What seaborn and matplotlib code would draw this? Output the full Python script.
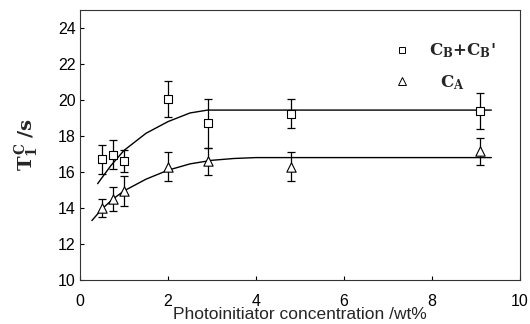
import numpy as np
import pandas as pd
import matplotlib
matplotlib.use("Agg")
import matplotlib.pyplot as plt
from matplotlib.lines import Line2D
import seaborn as sns

# measured points (photoinitiator wt% -> T1C in s)
conc = [0.5, 0.75, 1.0, 2.0, 2.9, 4.8, 9.1]
t1_cb = [16.7, 16.95, 16.6, 20.05, 18.7, 19.25, 19.4]
err_cb = [0.8, 0.8, 0.6, 1.0, 1.35, 0.8, 1.0]
t1_ca = [14.0, 14.5, 14.95, 16.3, 16.6, 16.3, 17.15]
err_ca = [0.5, 0.65, 0.85, 0.8, 0.75, 0.8, 0.75]

# fitted curves
fit_cb_x = [0.4, 0.7, 1.0, 1.5, 2.0, 2.5, 2.9, 9.35]
fit_cb_y = [15.35, 16.35, 17.2, 18.15, 18.8, 19.28, 19.44, 19.44]
fit_ca_x = [0.27, 0.5, 0.75, 1.0, 1.5, 2.0, 2.5, 3.0, 3.5, 4.0, 9.35]
fit_ca_y = [13.3, 13.95, 14.5, 14.95, 15.6, 16.1, 16.45, 16.65, 16.75, 16.8, 16.8]

xticks = [0, 2, 4, 6, 8, 10]
yticks = [10, 12, 14, 16, 18, 20, 22, 24]

sns.set_style("ticks")
plt.rcParams["font.family"] = ["Liberation Sans", "DejaVu Sans"]
plt.rcParams["mathtext.fontset"] = "dejavuserif"

df_pts = pd.DataFrame({"conc": conc, "cb": t1_cb, "ca": t1_ca})
df_cb = pd.DataFrame({"x": fit_cb_x, "y": fit_cb_y})
df_ca = pd.DataFrame({"x": fit_ca_x, "y": fit_ca_y})

fig = plt.figure(figsize=(5.30, 3.24), dpi=100)
ax = fig.add_axes([0.151, 0.136, 0.830, 0.833])

sns.lineplot(data=df_cb, x="x", y="y", ax=ax, color="black", lw=1.0, sort=False)
sns.lineplot(data=df_ca, x="x", y="y", ax=ax, color="black", lw=1.0, sort=False)

ax.errorbar(conc, t1_cb, yerr=err_cb, fmt="none", ecolor="black",
            elinewidth=0.9, capsize=3, capthick=0.9)
ax.errorbar(conc, t1_ca, yerr=err_ca, fmt="none", ecolor="black",
            elinewidth=0.9, capsize=3, capthick=0.9)

sns.scatterplot(data=df_pts, x="conc", y="cb", ax=ax, marker="s", s=32,
                facecolor="white", edgecolor="black", linewidth=0.8, zorder=5)
sns.scatterplot(data=df_pts, x="conc", y="ca", ax=ax, marker="^", s=45,
                facecolor="white", edgecolor="black", linewidth=0.8, zorder=5)

ax.set_xlim(0, 10)
ax.set_ylim(10, 25)
ax.set_xticks(xticks)
ax.set_yticks(yticks)
ax.tick_params(direction="in", length=3, width=0.8, labelsize=11.5, colors="black")
ax.tick_params(axis="x", pad=10)
ax.tick_params(axis="y", pad=3)
for sp in ax.spines.values():
    sp.set_linewidth(0.8)
    sp.set_color("#333333")

ax.set_xlabel("Photoinitiator concentration /wt%", fontsize=12.5, labelpad=-1)
ax.set_ylabel(r"$\mathbf{T_1^{\,C}}$ $\mathbf{/s}$", fontsize=14, labelpad=12)

handles = [
    Line2D([0], [0], marker="s", ls="none", markersize=5, markerfacecolor="white",
           markeredgecolor="black", markeredgewidth=0.7),
    Line2D([0], [0], marker="^", ls="none", markersize=6, markerfacecolor="white",
           markeredgecolor="black", markeredgewidth=0.7),
]
labels = [r"$\mathbf{C_B}$+$\mathbf{C_B}$'", r"  $\mathbf{C_A}$"]
leg = ax.legend(handles, labels, loc="center left", bbox_to_anchor=(0.66, 0.79),
                frameon=False, labelspacing=0.75, handletextpad=0.6,
                prop={"family": "DejaVu Serif", "weight": "bold", "size": 12})

fig.savefig("out.png", dpi=100)
